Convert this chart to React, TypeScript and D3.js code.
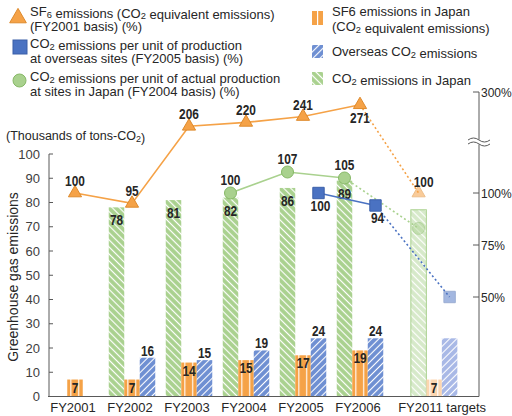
import React from 'react';
import * as d3 from 'd3';

const categories = ['FY2001', 'FY2002', 'FY2003', 'FY2004', 'FY2005', 'FY2006', 'FY2011 targets'];
const categorySlots = [0, 1, 2, 3, 4, 5, 6.3];
const targetIndex = 6;

const co2Japan: (number | null)[] = [null, 78, 81, 82, 86, 89, 77];
const sf6Japan: (number | null)[] = [7, 7, 14, 15, 17, 19, 7];
const co2Overseas: (number | null)[] = [null, 16, 15, 19, 24, 24, 24];

const sf6Index: (number | null)[] = [100, 95, 206, 220, 241, 271, 100];
const co2JapanIndex: (number | null)[] = [null, null, null, 100, 107, 105, 83];
const co2OverseasIndex: (number | null)[] = [null, null, null, null, 100, 94, 50];

const leftTicks = [0, 10, 20, 30, 40, 50, 60, 70, 80, 90, 100];
const rightTicks = [50, 75, 100, 300];

const ORANGE = '#F5A247';
const ORANGE_DARK = '#DE8A2C';
const GREEN = '#A9D18E';
const GREEN_DARK = '#86B866';
const BLUE_BAR = '#6E8FD2';
const BLUE = '#4A72C2';
const BLUE_DARK = '#3A5FA8';
const AXIS = '#595959';

const FONT = "'Liberation Sans', Arial, sans-serif";
const BOLD = "'Liberation Sans', Arial, sans-serif";

const W = 512;
const H = 416;
const bw = 15.5;

const yL = d3.scaleLinear().domain([0, 100]).range([396.5, 154]);
const y2 = d3.scaleLinear().domain([0, 100, 110, 200, 250, 300]).range([401, 193, 163, 128, 114, 92]);
const xS = d3.scaleLinear().domain([0, 5]).range([75, 360]);
const cx = (i: number) => xS(categorySlots[i]);
const xGreen = (i: number) => cx(i) - bw;
const xOrange = (i: number) => cx(i);
const xBlue = (i: number) => cx(i) + bw;

const Sub = ({ children }: { children: string }) => (
  <>
    <tspan fontSize="0.72em" dy="1.5">{children}</tspan>
    <tspan dy="-1.5">{''}</tspan>
  </>
);

function linePts(vals: (number | null)[], xf: (i: number) => number) {
  return vals
    .map((v, i) => (v == null ? null : { i, x: xf(i), y: y2(v), v }))
    .filter((d) => d != null) as { i: number; x: number; y: number; v: number }[];
}

const lineGen = d3.line<{ x: number; y: number }>().x((d) => d.x).y((d) => d.y);

export default function App() {
  const triX = (i: number) => (i === targetIndex ? xGreen(i) : xOrange(i));
  const triPts = linePts(sf6Index, triX);
  const circPts = linePts(co2JapanIndex, xGreen);
  const sqPts = linePts(co2OverseasIndex, xBlue);

  const solid = (pts: any[]) => pts.filter((p) => p.i !== targetIndex);
  const dotted = (pts: any[]) => pts.filter((p) => p.i >= targetIndex - 1);

  const triSym = d3.symbol(d3.symbolTriangle, 75)();
  const triSymL = d3.symbol(d3.symbolTriangle, 120)();
  const sqSym = d3.symbol(d3.symbolSquare, 130)();

  const bars = (vals: (number | null)[], xf: (i: number) => number, fill: string, fillT: string, stroke?: string) =>
    vals.map((v, i) =>
      v == null ? null : (
        <rect
          key={i}
          x={xf(i) - bw / 2}
          y={yL(v)}
          width={bw}
          height={yL(0) - yL(v)}
          fill={i === targetIndex ? fillT : fill}
          stroke={i === targetIndex && stroke ? stroke : 'none'}
          strokeWidth={1}
        />
      )
    );

  const boldText = (x: number, y: number, t: string, key?: any) => (
    <text key={key} x={x} y={y} textAnchor="middle" fontFamily={BOLD} fontWeight="bold" fontSize={14} fill="#262626"
      textLength={t.length * 6.6} lengthAdjust="spacingAndGlyphs">
      {t}
    </text>
  );

  const breakY = 142;

  return (
    <svg width={W} height={H} style={{ position: 'absolute', left: 0, top: 0, background: '#fff' }} fontFamily={FONT}>
      <defs>
        <pattern id="gH" width="5" height="5" patternUnits="userSpaceOnUse" patternTransform="rotate(-45)">
          <rect width="5" height="5" fill={GREEN} />
          <line x1="2.5" y1="0" x2="2.5" y2="5" stroke="#fff" strokeWidth="1.2" />
        </pattern>
        <pattern id="gHT" width="5" height="5" patternUnits="userSpaceOnUse" patternTransform="rotate(-45)">
          <rect width="5" height="5" fill="#D6E9C9" />
          <line x1="2.5" y1="0" x2="2.5" y2="5" stroke="#fff" strokeWidth="1.2" />
        </pattern>
        <pattern id="bH" width="5" height="5" patternUnits="userSpaceOnUse" patternTransform="rotate(45)">
          <rect width="5" height="5" fill={BLUE_BAR} />
          <line x1="2.5" y1="0" x2="2.5" y2="5" stroke="#fff" strokeWidth="1.1" />
        </pattern>
        <pattern id="bHT" width="5" height="5" patternUnits="userSpaceOnUse" patternTransform="rotate(45)">
          <rect width="5" height="5" fill="#A8B8E6" />
          <line x1="2.5" y1="0" x2="2.5" y2="5" stroke="#fff" strokeWidth="1.1" />
        </pattern>
        <pattern id="oS" width="0.5" height="1" patternUnits="objectBoundingBox" patternContentUnits="objectBoundingBox">
          <rect width="0.5" height="1" fill={ORANGE} />
          <rect x="0.2" width="0.07" height="1" fill="#fff" />
        </pattern>
        <pattern id="oST" width="0.5" height="1" patternUnits="objectBoundingBox" patternContentUnits="objectBoundingBox">
          <rect width="0.5" height="1" fill="#FCD6B0" />
          <rect x="0.2" width="0.07" height="1" fill="#fff" />
        </pattern>
      </defs>

      {/* Legend left */}
      <g fontSize={13} fill="#262626">
        <path d={triSymL!} transform="translate(18,18)" fill={ORANGE} stroke={ORANGE_DARK} />
        <text x={30} y={16}>SF<Sub>6</Sub> emissions (CO<Sub>2</Sub> equivalent emissions)</text>
        <text x={30} y={31}>(FY2001 basis) (%)</text>
        <rect x={13} y={40} width={14} height={14} fill={BLUE} stroke={BLUE_DARK} />
        <text x={30} y={48}>CO<Sub>2</Sub> emissions per unit of production</text>
        <text x={30} y={63}>at overseas sites (FY2005 basis) (%)</text>
        <circle cx={19.5} cy={80.5} r={6.5} fill={GREEN} stroke={GREEN_DARK} />
        <text x={30} y={81}>CO<Sub>2</Sub> emissions per unit of actual production</text>
        <text x={30} y={96}>at sites in Japan (FY2004 basis) (%)</text>
      </g>

      {/* Legend right */}
      <g fontSize={13} fill="#262626">
        <rect x={312} y={11} width={11} height={14} fill={ORANGE} />
        <rect x={317} y={11} width={1.2} height={14} fill="#fff" />
        <text x={332} y={16}>SF6 emissions in Japan</text>
        <text x={332} y={31}>(CO<Sub>2</Sub> equivalent emissions)</text>
        <rect x={312} y={45} width={11} height={13} fill="url(#bH)" />
        <text x={332} y={56}>Overseas CO<Sub>2</Sub> emissions</text>
        <rect x={312} y={72} width={11} height={13} fill="url(#gH)" />
        <text x={332} y={83}>CO<Sub>2</Sub> emissions in Japan</text>
      </g>

      {/* Axis titles */}
      <text x={6} y={140} fontSize={12.5} fill="#262626">(Thousands of tons-CO<Sub>2</Sub>)</text>
      <text transform="translate(18,277) rotate(-90)" textAnchor="middle" fontSize={14} fill="#262626">
        Greenhouse gas emissions
      </text>

      {/* Left axis */}
      <line x1={49} x2={49} y1={yL(100)} y2={yL(0)} stroke={AXIS} />
      {leftTicks.map((t) => (
        <g key={t}>
          <line x1={49} x2={53} y1={yL(t)} y2={yL(t)} stroke={AXIS} />
          <text x={40} y={yL(t) + 4.5} textAnchor="end" fontSize={13} fill="#404040">{t}</text>
        </g>
      ))}

      {/* Bars */}
      {bars(co2Japan, xGreen, 'url(#gH)', 'url(#gHT)', GREEN)}
      {bars(sf6Japan, xOrange, 'url(#oS)', 'url(#oST)')}
      {bars(co2Overseas, xBlue, 'url(#bH)', 'url(#bHT)')}

      {/* Bar labels */}
      {co2Japan.map((v, i) => (v == null || i === targetIndex ? null : boldText(xGreen(i), yL(v) + 18, String(v), 'g' + i)))}
      {sf6Japan.map((v, i) => (v == null ? null : boldText(xOrange(i), yL(v) + 13, String(v), 'o' + i)))}
      {co2Overseas.map((v, i) => (v == null || i === targetIndex ? null : boldText(xBlue(i), yL(v) - 2, String(v), 'b' + i)))}

      {/* X axis */}
      <line x1={48} x2={479} y1={yL(0)} y2={yL(0)} stroke={AXIS} />
      {categories.map((c, i) => (
        <text key={c} x={i === targetIndex ? cx(i) + 8 : cx(i) - 2} y={412} textAnchor="middle" fontSize={13} fill="#262626">
          {c}
        </text>
      ))}

      {/* Right axis */}
      <line x1={479} x2={479} y1={y2(300)} y2={yL(0)} stroke={AXIS} />
      {rightTicks.map((t) => (
        <g key={t}>
          <line x1={473} x2={479} y1={y2(t)} y2={y2(t)} stroke={AXIS} />
          <text x={481} y={y2(t) + 4.5} fontSize={12} fill="#262626">{t}%</text>
        </g>
      ))}
      <rect x={468} y={breakY - 2.5} width={22} height={5} fill="#fff" />
      <path d={`M468,${breakY - 2} q5.5,-4 11,0 t11,0`} fill="none" stroke={AXIS} />
      <path d={`M468,${breakY + 2} q5.5,-4 11,0 t11,0`} fill="none" stroke={AXIS} />

      {/* Lines */}
      <path d={lineGen(solid(triPts))!} fill="none" stroke={ORANGE} strokeWidth={1.6} />
      <path d={lineGen(dotted(triPts))!} fill="none" stroke={ORANGE} strokeWidth={1.6} strokeDasharray="2 2.5" />
      <path d={lineGen(solid(circPts))!} fill="none" stroke={GREEN} strokeWidth={1.6} />
      <path d={lineGen(dotted(circPts))!} fill="none" stroke={GREEN} strokeWidth={1.6} strokeDasharray="2 2.5" />
      <path d={lineGen(solid(sqPts))!} fill="none" stroke={BLUE} strokeWidth={1.6} />
      <path d={lineGen(dotted(sqPts))!} fill="none" stroke={BLUE} strokeWidth={1.6} strokeDasharray="2 2.5" />

      {/* Markers */}
      {triPts.map((p) => (
        <path key={'t' + p.i} d={triSym!} transform={`translate(${p.x},${p.y})`} fill={ORANGE} stroke={ORANGE_DARK}
          opacity={p.i === targetIndex ? 0.55 : 1} />
      ))}
      {circPts.map((p) => (
        <circle key={'c' + p.i} cx={p.x} cy={p.y} r={6} fill={GREEN} stroke={GREEN_DARK}
          opacity={p.i === targetIndex ? 0.45 : 1} />
      ))}
      {sqPts.map((p) => (
        <path key={'s' + p.i} d={sqSym!} transform={`translate(${p.x},${p.y})`} fill={BLUE} stroke={BLUE_DARK}
          opacity={p.i === targetIndex ? 0.5 : 1} />
      ))}

      {/* Marker labels */}
      {triPts.map((p) =>
        p.i === 5
          ? boldText(p.x, p.y + 18, String(p.v), 'tl' + p.i)
          : p.i === targetIndex
          ? boldText(p.x + 5, p.y - 6, String(p.v), 'tl' + p.i)
          : boldText(p.x, p.y - 7, String(p.v), 'tl' + p.i)
      )}
      {circPts.filter((p) => p.i !== targetIndex).map((p) => boldText(p.x, p.y - 8, String(p.v), 'cl' + p.i))}
      {sqPts.filter((p) => p.i !== targetIndex).map((p) => boldText(p.x + 2, p.y + 18, String(p.v), 'sl' + p.i))}
    </svg>
  );
}
